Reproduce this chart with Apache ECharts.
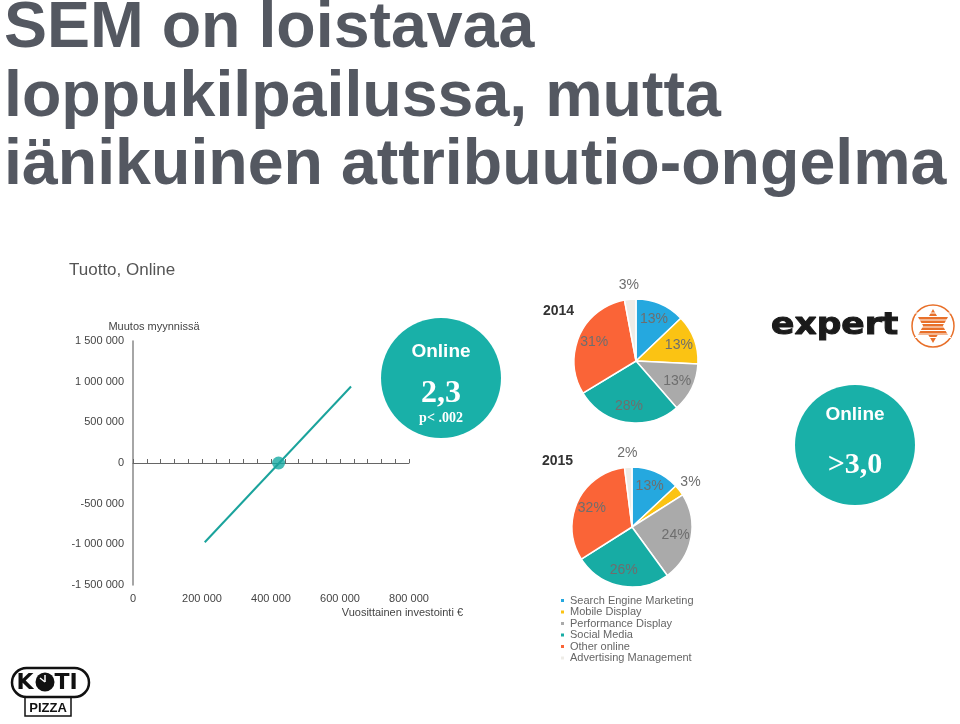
<!DOCTYPE html>
<html>
<head>
<meta charset="utf-8">
<title>SEM on loistavaa</title>
<script src="https://cdn.jsdelivr.net/npm/echarts@6/dist/echarts.min.js"></script>
<style>
  html, body { margin: 0; padding: 0; background: #fff; }
  #chart { width: 960px; height: 724px; }
</style>
</head>
<body>
<div id="chart"></div>
<script>
// Tuotto, Online: investment vs. change in sales
var investLine = [[208000, -975000], [632000, 940000]];
var breakEven = [[422000, 0]];

// channel split per year (%)
var channelNames = ['Search Engine Marketing', 'Mobile Display', 'Performance Display', 'Social Media', 'Other online', 'Advertising Management'];
var share2014 = [13, 13, 13, 28, 31, 3];
var share2015 = [13, 3, 24, 26, 32, 2];
var channelColors = ['#25a8df', '#fbc313', '#aaaaaa', '#17aca4', '#fa6437', '#eeece7'];

var FONT = '"Liberation Sans", Arial, sans-serif';
var TEAL = '#19b0a8';

function fmtNum (v) {
	return String(v).replace(/\B(?=(\d{3})+(?!\d))/g, ' ');
}

// one pie = filled slices + two transparent rings that only carry the labels
function pieSeries (shares, center, r) {
	var base = {
		type: 'pie',
		center: center,
		startAngle: 90,
		clockwise: true,
		silent: true,
		animation: false,
		avoidLabelOverlap: false,
		labelLine: { show: false }
	};
	var labelStyle = {
		position: 'inside',
		formatter: '{c}%',
		fontFamily: FONT,
		fontSize: 14,
		color: '#6e6e6e'
	};
	function ring (showBig) {
		return channelNames.map(function (n, i) {
			var big = shares[i] >= 5;
			return {
				name: n,
				value: shares[i],
				itemStyle: { color: 'rgba(0,0,0,0)', borderWidth: 0 },
				label: { show: showBig ? big : !big }
			};
		});
	}
	return [
		Object.assign({}, base, {
			radius: [0, r],
			data: channelNames.map(function (n, i) { return { name: n, value: shares[i] }; }),
			label: { show: false },
			itemStyle: { borderColor: '#fff', borderWidth: 1.5 }
		}),
		Object.assign({}, base, { radius: [r * 0.38, r], data: ring(true), label: labelStyle }),
		Object.assign({}, base, { radius: [r + 1, r + 21], data: ring(false), label: labelStyle })
	];
}

var chart = echarts.init(document.getElementById('chart'));

chart.setOption({
	backgroundColor: '#fff',
	animation: false,
	color: channelColors,
	textStyle: { fontFamily: FONT },
	title: [
		{
			text: 'SEM on loistavaa\nloppukilpailussa, mutta\niänikuinen attribuutio-ongelma',
			left: 4,
			top: -5,
			padding: 0,
			textStyle: { fontFamily: FONT, fontSize: 64.5, fontWeight: 'bold', color: '#545861', lineHeight: 68.5 }
		},
		{
			text: 'Tuotto, Online',
			left: 69,
			top: 262,
			padding: 0,
			textStyle: { fontFamily: FONT, fontSize: 17, fontWeight: 'normal', color: '#555' }
		},
		{
			text: '2014',
			left: 543,
			top: 304,
			padding: 0,
			textStyle: { fontFamily: FONT, fontSize: 14, fontWeight: 'bold', color: '#333' }
		},
		{
			text: '2015',
			left: 542,
			top: 454,
			padding: 0,
			textStyle: { fontFamily: FONT, fontSize: 14, fontWeight: 'bold', color: '#333' }
		}
	],
	legend: {
		data: channelNames,
		orient: 'vertical',
		left: 559,
		top: 595,
		padding: 0,
		itemGap: 0.5,
		itemWidth: 5,
		itemHeight: 5,
		icon: 'rect',
		selectedMode: false,
		textStyle: { fontFamily: FONT, fontSize: 11, color: '#666' }
	},
	grid: { left: 133, right: 551, top: 341, bottom: 139 },
	xAxis: [
		{
			// axis drawn through zero, ticks only
			type: 'value',
			min: 0,
			max: 800000,
			interval: 40000,
			position: 'bottom',
			axisLine: { onZero: true, lineStyle: { color: '#666', width: 1 } },
			axisTick: { show: true, inside: true, length: 4, lineStyle: { color: '#666' } },
			axisLabel: { show: false },
			splitLine: { show: false }
		},
		{
			// labels along the bottom
			type: 'value',
			min: 0,
			max: 800000,
			interval: 200000,
			position: 'bottom',
			axisLine: { show: false, onZero: false },
			axisTick: { show: false },
			splitLine: { show: false },
			axisLabel: { margin: 8, fontSize: 11, color: '#444', formatter: fmtNum },
			name: 'Vuosittainen investointi €',
			nameLocation: 'end',
			nameGap: 54,
			nameTextStyle: { fontSize: 11, color: '#444', align: 'right', verticalAlign: 'top', padding: [22, 0, 0, 0] }
		}
	],
	yAxis: {
		type: 'value',
		min: -1500000,
		max: 1500000,
		interval: 500000,
		axisLine: { show: true, lineStyle: { color: '#888', width: 1.5 } },
		axisTick: { show: false },
		splitLine: { show: false },
		axisLabel: { margin: 9, fontSize: 11, color: '#444', formatter: fmtNum },
		name: 'Muutos myynnissä',
		nameLocation: 'end',
		nameGap: 9,
		nameTextStyle: { fontSize: 11, color: '#444', align: 'center', padding: [0, 0, 0, 42] }
	},
	series: [
		{
			type: 'line',
			xAxisIndex: 0,
			data: investLine,
			symbol: 'none',
			silent: true,
			lineStyle: { color: '#1aa39c', width: 2 }
		},
		{
			type: 'scatter',
			xAxisIndex: 0,
			data: breakEven,
			symbolSize: 13,
			silent: true,
			itemStyle: { color: '#17aaa3' }
		}
	].concat(pieSeries(share2014, [636, 361], 62), pieSeries(share2015, [632, 527], 60)),
	graphic: [
		// "Online 2,3" bubble
		{ type: 'circle', shape: { cx: 441, cy: 378, r: 60 }, style: { fill: TEAL } },
		{ type: 'text', x: 441, y: 352, style: { text: 'Online', fill: '#fff', fontFamily: FONT, fontSize: 19, fontWeight: 'bold', align: 'center', verticalAlign: 'middle' } },
		{ type: 'text', x: 441, y: 394, style: { text: '2,3', fill: '#fff', fontFamily: '"Liberation Serif", serif', fontSize: 32, fontWeight: 'bold', align: 'center', verticalAlign: 'middle' } },
		{ type: 'text', x: 441, y: 418, style: { text: 'p< .002', fill: '#fff', fontFamily: '"Liberation Serif", serif', fontSize: 14, fontWeight: 'bold', align: 'center', verticalAlign: 'middle' } },
		// "Online >3,0" bubble
		{ type: 'circle', shape: { cx: 855, cy: 445, r: 60 }, style: { fill: TEAL } },
		{ type: 'text', x: 855, y: 415, style: { text: 'Online', fill: '#fff', fontFamily: FONT, fontSize: 19, fontWeight: 'bold', align: 'center', verticalAlign: 'middle' } },
		{ type: 'text', x: 855, y: 465, style: { text: '>3,0', fill: '#fff', fontFamily: '"Liberation Serif", serif', fontSize: 30, fontWeight: 'bold', align: 'center', verticalAlign: 'middle' } },
		// expert logo
		{ type: 'text', x: 771, y: 326, scaleX: 1.15, style: { text: 'expert', fill: '#1a1a1a', stroke: '#1a1a1a', lineWidth: 1, fontFamily: '"DejaVu Sans", sans-serif', fontSize: 30, fontWeight: 'bold', align: 'left', verticalAlign: 'middle' } },
		{ type: 'circle', shape: { cx: 933, cy: 326, r: 21 }, style: { fill: '#fff', stroke: '#e8702a', lineWidth: 1.5 } },
		{ type: 'polygon', shape: { points: [[933, 309], [948, 335], [918, 335]] }, style: { fill: '#e8702a' } },
		{ type: 'polygon', shape: { points: [[933, 343], [948, 317], [918, 317]] }, style: { fill: '#e8702a' } },
		{ type: 'line', shape: { x1: 915, y1: 313, x2: 951, y2: 313 }, style: { stroke: '#fff', lineWidth: 1 } },
		{ type: 'line', shape: { x1: 915, y1: 316.5, x2: 951, y2: 316.5 }, style: { stroke: '#fff', lineWidth: 1 } },
		{ type: 'line', shape: { x1: 915, y1: 320, x2: 951, y2: 320 }, style: { stroke: '#fff', lineWidth: 1 } },
		{ type: 'line', shape: { x1: 915, y1: 323.5, x2: 951, y2: 323.5 }, style: { stroke: '#fff', lineWidth: 1 } },
		{ type: 'line', shape: { x1: 915, y1: 327, x2: 951, y2: 327 }, style: { stroke: '#fff', lineWidth: 1 } },
		{ type: 'line', shape: { x1: 915, y1: 330.5, x2: 951, y2: 330.5 }, style: { stroke: '#fff', lineWidth: 1 } },
		{ type: 'line', shape: { x1: 915, y1: 334, x2: 951, y2: 334 }, style: { stroke: '#fff', lineWidth: 1 } },
		{ type: 'line', shape: { x1: 915, y1: 337.5, x2: 951, y2: 337.5 }, style: { stroke: '#fff', lineWidth: 1 } },
		// Koti Pizza logo
		{ type: 'rect', shape: { x: 25, y: 690, width: 46, height: 26 }, style: { fill: '#fff', stroke: '#111', lineWidth: 1.5 } },
		{ type: 'rect', shape: { x: 12, y: 668, width: 77, height: 29, r: 14.5 }, style: { fill: '#fff', stroke: '#111', lineWidth: 2.5 } },
		{ type: 'text', x: 25, y: 683, style: { text: 'K', fill: '#111', fontFamily: '"DejaVu Sans", sans-serif', fontSize: 22, fontWeight: 'bold', align: 'center', verticalAlign: 'middle' } },
		{ type: 'circle', shape: { cx: 45, cy: 682, r: 9.5 }, style: { fill: '#111' } },
		{ type: 'line', shape: { x1: 45, y1: 682, x2: 45, y2: 675 }, style: { stroke: '#fff', lineWidth: 1.5 } },
		{ type: 'line', shape: { x1: 45, y1: 682, x2: 40, y2: 678 }, style: { stroke: '#fff', lineWidth: 1.5 } },
		{ type: 'text', x: 66, y: 683, style: { text: 'TI', fill: '#111', fontFamily: '"DejaVu Sans", sans-serif', fontSize: 22, fontWeight: 'bold', align: 'center', verticalAlign: 'middle' } },
		{ type: 'text', x: 48, y: 708, style: { text: 'PIZZA', fill: '#111', fontFamily: FONT, fontSize: 13, fontWeight: 'bold', align: 'center', verticalAlign: 'middle' } }
	]
});
</script>
</body>
</html>
